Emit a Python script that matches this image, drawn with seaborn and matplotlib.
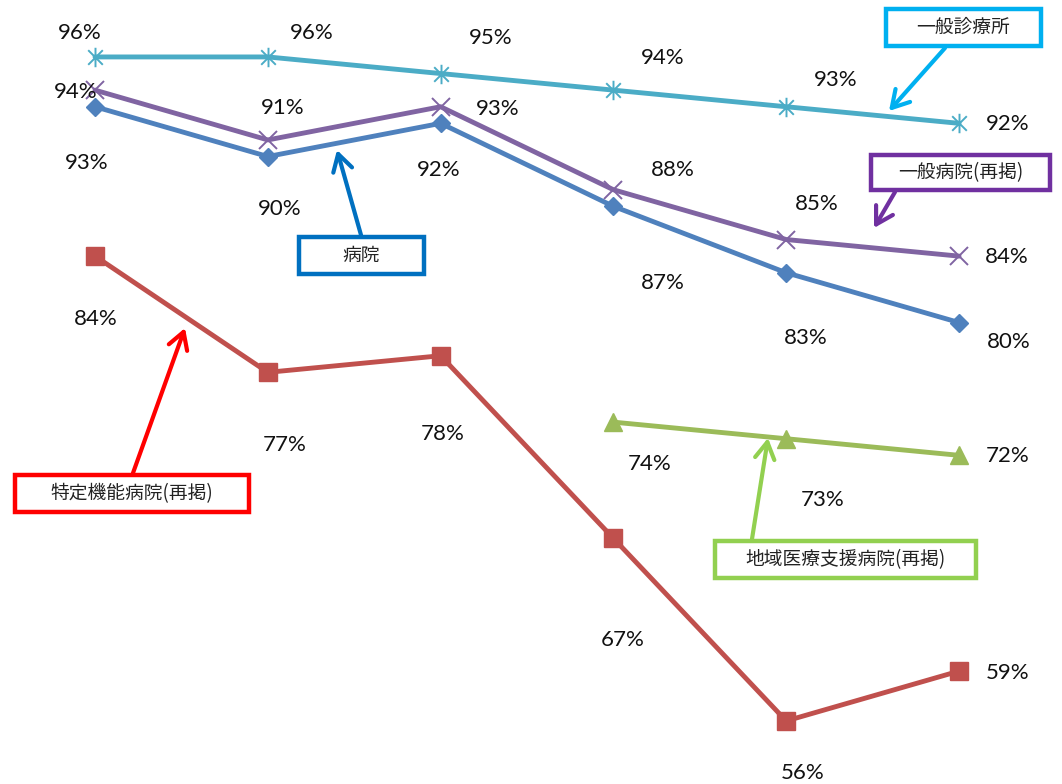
import matplotlib
matplotlib.use("Agg")
import matplotlib.pyplot as plt
import seaborn as sns
import numpy as np
import pandas as pd
from matplotlib.path import Path
from matplotlib.patches import Rectangle

# ---------------- data ----------------
periods = [0, 1, 2, 3, 4, 5]
clinic = [96, 96, 95, 94, 93, 92]            # 一般診療所
general = [94, 91, 93, 88, 85, 84]           # 一般病院(再掲)
hospital = [93, 90, 92, 87, 83, 80]          # 病院
special = [84, 77, 78, 67, 56, 59]           # 特定機能病院(再掲)
regional = [np.nan, np.nan, np.nan, 74, 73, 72]  # 地域医療支援病院(再掲)

names = ["病院", "特定機能病院(再掲)", "地域医療支援病院(再掲)", "一般診療所", "一般病院(再掲)"]
values = {"病院": hospital, "特定機能病院(再掲)": special, "地域医療支援病院(再掲)": regional,
          "一般診療所": clinic, "一般病院(再掲)": general}

df = pd.concat([pd.DataFrame({"period": periods, "value": values[n], "series": n}) for n in names],
               ignore_index=True)

# ---------------- styles ----------------
W, H = 1062, 784
sns.set_theme(style="white")
plt.rcParams["font.family"] = ["Lato", "Noto Sans CJK JP", "DejaVu Sans"]

star = Path([(0, -1), (0, 1), (-0.75, -0.75), (0.75, 0.75), (-0.75, 0.75), (0.75, -0.75)],
            [Path.MOVETO, Path.LINETO] * 3)

styles = {
    "病院": dict(color="#4F81BD", marker="D", ms=9.5, mew=1),
    "特定機能病院(再掲)": dict(color="#C0504D", marker="s", ms=13, mew=1),
    "地域医療支援病院(再掲)": dict(color="#9BBB59", marker="^", ms=13, mew=1),
    "一般診療所": dict(color="#4BACC6", marker=star, ms=14, mew=1.4),
    "一般病院(再掲)": dict(color="#8064A2", marker="x", ms=13, mew=1.4),
}

# label offsets (pixels, right / down) per series
offsets = {
    "一般診療所": [(-15, -24), (44, -24), (50, -36), (49, -32), (49, -27), (49, 1)],
    "一般病院(再掲)": [(-19, 2), (15, -32), (57, 2), (59, -20), (31, -36), (48, 1)],
    "病院": [(-8, 56), (12, 52), (-2, 47), (49, 77), (20, 65), (50, 19)],
    "特定機能病院(再掲)": [(1, 63), (17, 73), (2, 78), (9, 102), (16, 52), (49, 2)],
    "地域医療支援病院(再掲)": [(0, 0), (0, 0), (0, 0), (36, 42), (36, 61), (49, 1)],
}

# callout boxes (pixel coords from top-left: x0, y0, x1, y1), arrow start, arrow tip, colour
callouts = {
    "一般診療所": ((886, 9, 1041, 46), (945, 48), (889, 111), "#00B0F0"),
    "一般病院(再掲)": ((871, 155, 1050, 190), (895, 192), (874, 228), "#7030A0"),
    "病院": ((299, 237, 424, 274), (361, 235), (337, 150), "#0070C0"),
    "特定機能病院(再掲)": ((15, 475, 249, 512), (133, 473), (185, 328), "#FF0000"),
    "地域医療支援病院(再掲)": ((715, 541, 976, 578), (752, 539), (768, 438), "#92D050"),
}

fig = plt.figure(figsize=(W / 100, H / 100), dpi=100)
ax = fig.add_axes([0, 0, 1, 1])

for n in names:
    st = styles[n]
    sub = df[df["series"] == n]
    sns.lineplot(data=sub, x="period", y="value", ax=ax, color=st["color"], lw=3.5,
                 marker=st["marker"], markersize=st["ms"], markeredgewidth=st["mew"],
                 markeredgecolor=st["color"], markerfacecolor=st["color"], legend=False)
    for i, (x, v) in enumerate(zip(periods, values[n])):
        if np.isnan(v):
            continue
        dx, dy = offsets[n][i]
        ax.annotate(f"{v:.0f}%", (x, v), xytext=(dx, -dy), textcoords="offset pixels",
                    ha="center", va="center", fontsize=16, color="#111111")

ax.set_xlim(-0.55, 5.596)
ax.set_ylim(52.2, 99.43)
ax.axis("off")

for n, (box, start, tip, col) in callouts.items():
    x0, y0, x1, y1 = box
    rect = Rectangle((x0 / W, 1 - y1 / H), (x1 - x0) / W, (y1 - y0) / H, transform=fig.transFigure,
                     facecolor="white", edgecolor=col, lw=3.2, zorder=5)
    fig.patches.append(rect)
    fig.text((x0 + x1) / 2 / W, 1 - (y0 + y1) / 2 / H, n, ha="center", va="center",
             fontsize=13.5, color="#222222", family=["Noto Sans CJK JP", "DejaVu Sans"], zorder=6)
    ax.annotate("", xy=(tip[0], H - tip[1]), xycoords="figure pixels",
                xytext=(start[0], H - start[1]), textcoords="figure pixels",
                arrowprops=dict(arrowstyle="->,head_length=0.6,head_width=0.35", lw=3, color=col,
                                mutation_scale=20, shrinkA=0, shrinkB=0))

fig.savefig("out.png", dpi=100)
